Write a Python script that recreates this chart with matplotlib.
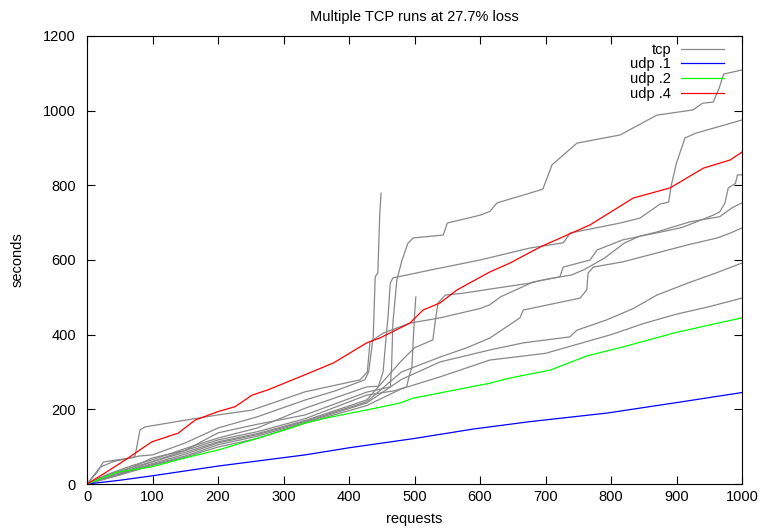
import matplotlib
matplotlib.use("Agg")
import matplotlib.pyplot as plt

plt.rcParams['font.family'] = ['Liberation Sans', 'DejaVu Sans']

# --- udp runs ---
udp1_x = [0, 50, 100, 200, 333, 400, 500, 589, 676, 794, 900, 1000]
udp1_y = [0, 10, 22, 48, 78, 97, 122, 147, 167, 190, 218, 245]

udp2_x = [0, 47, 99, 150, 200, 252, 302, 333, 366, 443, 478, 498, 539, 615, 646, 707, 763, 818, 895, 971, 1000]
udp2_y = [0, 32, 46, 70, 91, 118, 145, 163, 177, 204, 217, 230, 244, 270, 284, 305, 343, 367, 404, 434, 445]

udp4_x = [0, 27, 58, 73, 99, 139, 165, 200, 226, 252, 276, 325, 376, 427, 447, 493, 513, 539, 565,
          615, 646, 692, 768, 834, 890, 941, 982, 1000]
udp4_y = [0, 29, 64, 82, 113, 136, 171, 194, 207, 238, 252, 287, 324, 378, 391, 431, 466, 485, 520,
          568, 592, 635, 694, 766, 793, 846, 868, 889]

# --- tcp runs ---
tcp_a_x = [0, 25, 60, 100, 150, 200, 260, 333, 427, 463, 465, 467, 473, 481, 490, 498, 544, 550, 600,
           615, 626, 676, 696, 710, 748, 814, 870, 925, 940, 956, 965, 972, 1000]
tcp_a_y = [0, 20, 40, 60, 90, 137, 160, 185, 246, 260, 313, 431, 546, 600, 645, 659, 667, 699, 720,
           730, 753, 779, 790, 855, 913, 935, 988, 1002, 1020, 1023, 1060, 1098, 1109]

tcp_c_x = [0, 30, 70, 100, 150, 200, 260, 333, 427, 445, 452, 456, 460, 463, 467, 524, 600, 676, 727,
           733, 737, 814, 844, 875, 888, 892, 900, 913, 930, 1000]
tcp_c_y = [0, 25, 50, 65, 95, 123, 150, 203, 260, 262, 300, 380, 458, 538, 552, 573, 600, 632, 646,
           660, 672, 699, 712, 750, 755, 800, 860, 927, 940, 975]

tcp_d_x = [0, 20, 40, 73, 81, 89, 150, 200, 252, 333, 417, 428, 432, 452, 493, 539, 600, 615, 631, 681,
           722, 727, 768, 779, 818, 890, 910, 956, 966, 974, 979, 990, 993, 1000]
tcp_d_y = [0, 45, 60, 72, 145, 153, 171, 185, 198, 247, 279, 300, 380, 404, 431, 445, 470, 480, 501, 541,
           555, 581, 600, 627, 654, 680, 688, 720, 729, 753, 793, 805, 828, 828]

tcp_s1_x = [0, 15, 25, 63, 80, 100, 150, 200, 260, 333, 380, 424, 430, 437, 440, 444, 447, 449]
tcp_s1_y = [0, 30, 59, 69, 75, 78, 110, 150, 180, 225, 250, 279, 300, 394, 555, 565, 726, 779]

tcp_s2_x = [0, 50, 100, 150, 200, 260, 333, 427, 470, 488, 492, 496, 500, 502]
tcp_s2_y = [0, 30, 70, 90, 118, 140, 175, 238, 250, 260, 290, 313, 450, 501]

tcp_e_x = [0, 50, 100, 150, 200, 260, 333, 427, 480, 500, 528, 532, 536, 547, 574, 615, 676, 700, 740,
           760, 790, 820, 844, 870, 920, 966, 985, 1000]
tcp_e_y = [0, 28, 60, 85, 113, 135, 170, 225, 330, 365, 386, 440, 485, 506, 511, 522, 538, 548, 560,
           575, 605, 645, 664, 675, 702, 716, 740, 753]

tcp_f_x = [0, 40, 100, 150, 200, 260, 333, 427, 480, 539, 580, 615, 661, 666, 753, 763, 765, 773, 818,
           916, 962, 982, 1000]
tcp_f_y = [0, 22, 55, 80, 110, 132, 168, 220, 300, 340, 365, 391, 445, 466, 498, 520, 565, 581, 595,
           640, 659, 672, 686]

tcp_g_x = [0, 50, 100, 150, 200, 260, 333, 427, 480, 539, 615, 666, 737, 748, 794, 834, 870, 920, 960, 1000]
tcp_g_y = [0, 26, 52, 75, 105, 128, 165, 217, 280, 327, 359, 378, 394, 412, 440, 470, 506, 540, 565, 592]

tcp_h_x = [0, 50, 100, 150, 200, 260, 333, 427, 480, 539, 615, 700, 760, 800, 850, 900, 950, 1000]
tcp_h_y = [0, 24, 50, 72, 99, 122, 163, 210, 255, 287, 332, 350, 380, 400, 430, 455, 475, 498]

tcp_runs = [
    (tcp_a_x, tcp_a_y), (tcp_c_x, tcp_c_y), (tcp_d_x, tcp_d_y),
    (tcp_s1_x, tcp_s1_y), (tcp_s2_x, tcp_s2_y), (tcp_e_x, tcp_e_y),
    (tcp_f_x, tcp_f_y), (tcp_g_x, tcp_g_y), (tcp_h_x, tcp_h_y),
]

fs = 10.5

fig = plt.figure(figsize=(7.64, 5.31), dpi=100)
ax = fig.add_axes([87 / 764, 1 - 484 / 531, 655 / 764, 448 / 531])

gray = '#888888'
lw = 0.9
for i, (xs, ys) in enumerate(tcp_runs):
    ax.plot(xs, ys, color=gray, lw=lw, label='tcp' if i == 0 else None)
ax.plot(udp1_x, udp1_y, color='#0000ff', lw=lw, label='udp .1')
ax.plot(udp2_x, udp2_y, color='#00ff00', lw=lw, label='udp .2')
ax.plot(udp4_x, udp4_y, color='#ff0000', lw=lw, label='udp .4')

ax.set_xlim(0, 1000)
ax.set_ylim(0, 1200)
ax.set_xticks(range(0, 1001, 100))
ax.set_yticks(range(0, 1201, 200))
ax.tick_params(direction='in', length=6, width=0.8, top=True, right=True, labelsize=fs)
ax.tick_params(axis='x', pad=4)
ax.tick_params(axis='y', pad=8)
for s in ax.spines.values():
    s.set_linewidth(0.8)

ax.set_title('Multiple TCP runs at 27.7% loss', fontsize=fs, pad=11)
ax.set_xlabel('requests', fontsize=fs, labelpad=6)
ax.set_ylabel('seconds', fontsize=fs, labelpad=13)

ax.legend(loc='upper right', bbox_to_anchor=(0.981, 0.998), frameon=False, markerfirst=False,
          fontsize=fs, handlelength=2.9, labelspacing=0.05, handletextpad=0.7, borderaxespad=0)

fig.savefig('out.png', dpi=100)
